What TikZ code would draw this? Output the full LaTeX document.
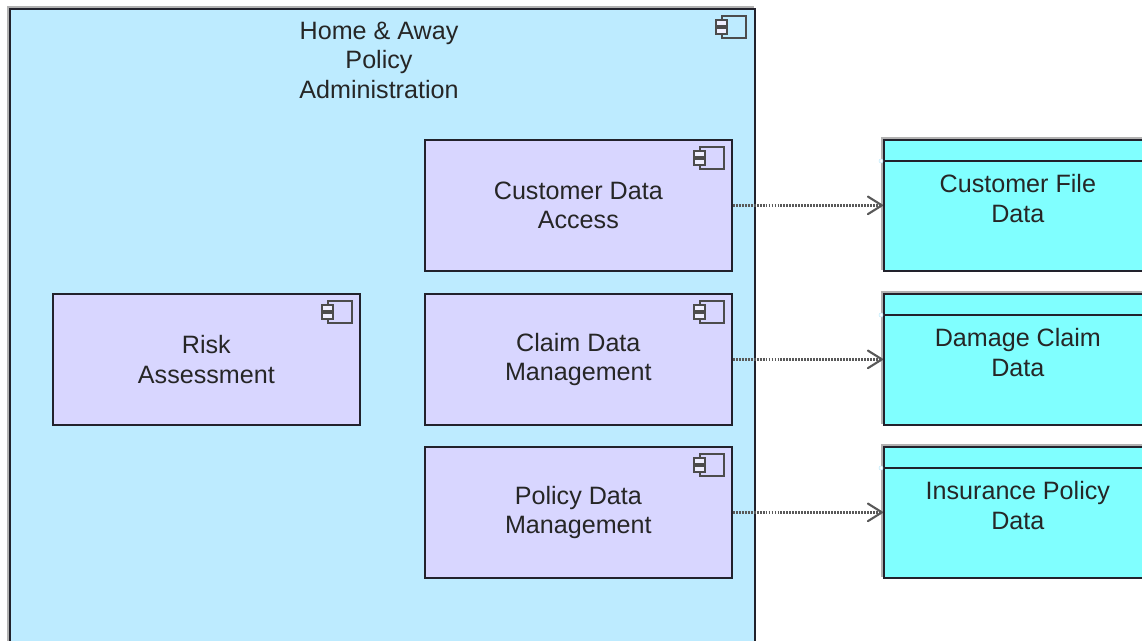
\documentclass[tikz,border=0pt]{standalone}
\usepackage{fontspec}
\setmainfont{Liberation Sans}
\usetikzlibrary{arrows.meta}
\definecolor{mainblue}{RGB}{189,235,255}
\definecolor{complilac}{RGB}{216,214,255}
\definecolor{datacyan}{RGB}{128,255,255}
\definecolor{edgedark}{RGB}{34,34,44}
\tikzset{
	boxtext/.style={font=\fontsize{14.3}{16.8}\selectfont,text=black!85,align=center},
	shadowed/.style={preaction={draw=black!30,line width=1.2pt,transform canvas={shift={(-0.04cm,0.04cm)}}}},
	comp/.style={boxtext,draw=edgedark,line width=1pt,fill=complilac,anchor=north west,minimum width=6.14cm,minimum height=2.62cm},
	databox/.style={draw=edgedark,line width=1pt,fill=datacyan,shadowed,anchor=north west,minimum width=5.36cm,minimum height=2.62cm},
	dataflow/.style={draw=black!65,line width=1.8pt,dash pattern=on 1.1pt off 0.6pt,-{Straight Barb[length=8pt,width=10pt,line width=1.2pt,round]}},
	iconline/.style={draw=black!70,line width=0.7pt}
}
\newcommand{\compicon}[1]{
	\begin{scope}[shift={(#1)}]
		\draw[iconline] (-24,0) rectangle (0,22);
		\draw[iconline,fill=white!60!complilac] (-30,4) rectangle (-19,10);
		\draw[iconline,fill=white!60!complilac] (-30,12) rectangle (-19,18);
	\end{scope}
}
\begin{document}
\begin{tikzpicture}[x=0.02cm,y=-0.02cm]
	\useasboundingbox (0,0) rectangle (1142,641);
	\clip (0,0) rectangle (1142,641);
	\node[draw=edgedark,line width=1pt,fill=mainblue,shadowed,anchor=north west,minimum width=14.9cm,minimum height=13.84cm] (admin) at (9,8) {};
	\node[boxtext] (admintext) at (379,60) {Home \& Away\\Policy\\Administration};
	\compicon{746,16}
	\foreach \n/\l/\x/\y in
	{
		risk/{Risk\\Assessment}/52/293,
		cust/{Customer Data\\Access}/424/139,
		claim/{Claim Data\\Management}/424/293,
		policy/{Policy Data\\Management}/424/446}
	{
		\node[comp] (\n) at (\x,\y) {\l};
		\compicon{\x+300,\y+8}
	}
	\foreach \n/\l/\y/\s in
	{
		custfile/{Customer File\\Data}/139/cust,
		damage/{Damage Claim\\Data}/293/claim,
		insurance/{Insurance Policy\\Data}/446/policy}
	{
		\node[databox] (\n) at (883,\y) {};
		\draw[edgedark,line width=0.9pt] ([yshift=-0.44cm]\n.north west) -- ([yshift=-0.44cm]\n.north east);
		\node[boxtext] (\n text) at ([yshift=0.14cm]\n.center) {\l};
		\draw[draw=cyan!25,fill=white,line width=0.3pt] ([yshift=-0.44cm,xshift=-0.04cm]\n.north west) circle (2);
		\draw[dataflow] (\s.east) -- (\n.west);
	}
\end{tikzpicture}
\end{document}
